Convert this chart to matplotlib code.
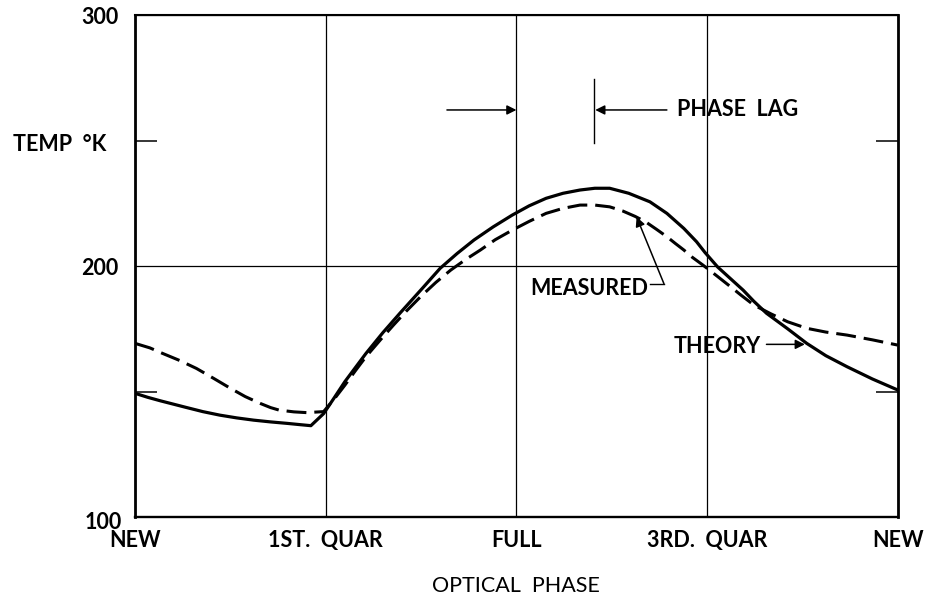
import matplotlib
matplotlib.use("Agg")
import matplotlib.pyplot as plt
import matplotlib.transforms as mtransforms

plt.rcParams["font.family"] = ["Lato", "DejaVu Sans"]
plt.rcParams["font.weight"] = "bold"

# Lunar surface temperature over one lunation (phase in degrees, 0 = new moon)
theory_phase = [0, 6, 12, 18, 24, 32, 40, 48, 56, 64, 72, 78, 83, 89, 94, 99,
                109, 117, 125, 136, 144, 152, 160, 169, 178, 186, 194, 202,
                210, 217, 224, 233, 243, 251, 259, 265, 269, 275, 281, 287,
                292, 298, 308, 317, 326, 336, 348, 360]
theory_temp = [149.3, 147.7, 146.3, 145.0, 143.7, 142.0, 140.6, 139.5, 138.6,
               137.9, 137.3, 136.8, 136.4, 141.2, 147.5, 153.9, 165.2, 173.5,
               181.2, 191.5, 199.1, 205.0, 210.4, 215.6, 220.3, 224.0, 227.0,
               229.0, 230.3, 231.0, 231.0, 229.0, 225.6, 221.0, 215.0, 209.7,
               205.4, 199.6, 195.0, 190.4, 186.0, 181.2, 175.0, 169.2, 164.3,
               159.9, 155.0, 150.6]

measured_phase = [0, 7, 13, 21, 29, 37, 45, 52, 59, 64, 68, 75, 81, 89, 94, 99,
                  104, 109, 116, 122, 128, 135, 142, 149, 156, 163, 170, 178,
                  186, 194, 202, 210, 217, 224, 230, 236, 241, 246, 251, 255,
                  259, 263, 268, 275, 281, 286, 292, 300, 308, 317, 326, 336,
                  348, 360]
measured_temp = [169.2, 167.4, 165.2, 162.4, 159.2, 155.3, 151.3, 148.0, 145.3,
                 143.6, 142.6, 141.9, 141.6, 142.0, 147.0, 152.5, 158.3, 163.9,
                 170.8, 176.5, 182.0, 188.0, 193.5, 198.4, 202.6, 206.4, 210.5,
                 214.3, 217.8, 221.0, 223.0, 224.3, 224.3, 223.6, 222.0, 219.8,
                 217.6, 214.7, 211.7, 209.0, 206.4, 203.5, 200.4, 195.8, 191.8,
                 188.4, 184.5, 181.0, 177.8, 175.2, 173.7, 172.5, 170.6, 168.5]

phase_ticks = [0, 90, 180, 270, 360]
phase_labels = ["NEW", "1ST.  QUAR", "FULL", "3RD.  QUAR", "NEW"]
temp_ticks = [100, 200, 300]
temp_labels = ["100", "200", "300"]
temp_minor = [150, 250]

FS = 15.5

fig = plt.figure(figsize=(9.28, 6.04), dpi=100)
ax = fig.add_axes([0.1455, 0.144, 0.822, 0.831])

ax.plot(theory_phase, theory_temp, color="black", lw=2.3,
        solid_joinstyle="round", solid_capstyle="round", zorder=3)
ax.plot(measured_phase, measured_temp, color="black", lw=2.2,
        dashes=(6.5, 2.6), zorder=3)

ax.set_xlim(0, 360)
ax.set_ylim(100, 300)

ax.set_xticks(phase_ticks)
ax.set_xticklabels(phase_labels)
ax.set_yticks(temp_ticks)
ax.set_yticklabels(temp_labels)
ax.set_yticks(temp_minor, minor=True)

ax.tick_params(axis="both", which="major", length=0, labelsize=FS)
ax.tick_params(axis="x", which="major", pad=9)
ax.tick_params(axis="y", which="major", pad=12)
ax.tick_params(axis="y", which="minor", direction="in", length=15.5,
               width=1.1, left=True, right=True)

# Nudge the bottom-left value label like a hand-lettered chart
lbl100 = ax.yaxis.get_major_ticks()[0].label1
lbl100.set_transform(lbl100.get_transform() +
                     mtransforms.ScaledTranslation(4 / 100, -3 / 100,
                                                   fig.dpi_scale_trans))

ax.grid(True, which="major", color="black", lw=0.9)
ax.set_axisbelow(True)

for side, w in (("left", 2.0), ("right", 2.0), ("bottom", 1.7), ("top", 1.5)):
    ax.spines[side].set_linewidth(w)

ax.set_xlabel("OPTICAL  PHASE", fontsize=FS, labelpad=18, fontweight="normal")
fig.text(0.014, 0.76, "TEMP  °K", fontsize=FS, ha="left", va="center")

arrow = dict(arrowstyle="-|>", color="black", lw=1.1, mutation_scale=14,
             shrinkA=0, shrinkB=0)

# Phase lag markers
ax.annotate("", xy=(180, 262.2), xytext=(147.2, 262.2), arrowprops=arrow)
ax.plot([216.7, 216.7], [249, 274.5], color="black", lw=1.0)
ax.annotate("", xy=(217.2, 262.2), xytext=(251, 262.2), arrowprops=arrow)
ax.text(255.7, 262.2, "PHASE  LAG", fontsize=FS, ha="left", va="center")

# Curve labels
ax.text(186.5, 191.2, "MEASURED", fontsize=FS, ha="left", va="center")
ax.plot([243.0, 249.6], [193.0, 193.0], color="black", lw=1.0)
ax.annotate("", xy=(236.7, 219.6), xytext=(249.6, 193.0), arrowprops=arrow)

ax.text(254.0, 167.8, "THEORY", fontsize=FS, ha="left", va="center")
ax.annotate("", xy=(316.1, 168.8), xytext=(298.0, 168.8), arrowprops=arrow)

fig.savefig("out.png", dpi=100)
